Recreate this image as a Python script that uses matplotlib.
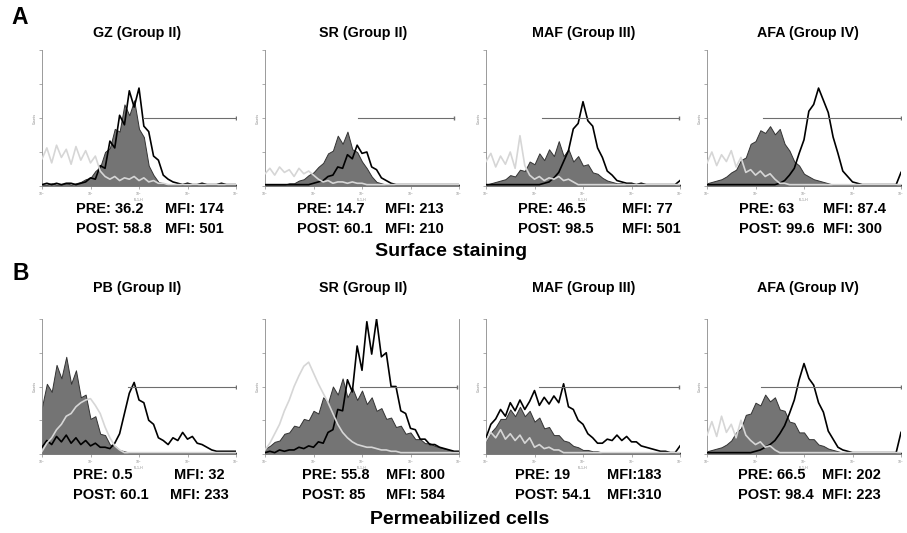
import numpy as np
import matplotlib
matplotlib.use("Agg")
import matplotlib.pyplot as plt

plt.rcParams["font.family"] = ["Liberation Sans", "DejaVu Sans"]

# histogram heights (fraction of axis height) on 41 channels, log10 scale 0..4
gz_iso  = [0.20, 0.28, 0.17, 0.30, 0.21, 0.27, 0.16, 0.29, 0.19, 0.26, 0.17, 0.22,
           0.11, 0.07, 0.05, 0.07, 0.04, 0.06, 0.05, 0.07, 0.04, 0.06, 0.03, 0.04, 0.02, 0.02] + [0.01] * 15
gz_pre  = [0.01, 0.01, 0.02, 0.01, 0.01, 0.02, 0.01, 0.02,
           0.03, 0.05, 0.06, 0.11, 0.14, 0.25, 0.28, 0.42, 0.40, 0.60, 0.52, 0.63, 0.42, 0.36,
           0.15, 0.08, 0.03, 0.02] + [0.01] * 15
gz_post = [0.01, 0.02, 0.01, 0.02, 0.01, 0.02, 0.02, 0.01, 0.02,
           0.03, 0.06, 0.05, 0.15, 0.13, 0.33, 0.28, 0.52, 0.45, 0.70, 0.58, 0.72, 0.44, 0.40,
           0.22, 0.19, 0.08, 0.05, 0.03,
           0.02, 0.01, 0.02, 0.01, 0.01, 0.02, 0.01, 0.01, 0.01, 0.02, 0.01, 0.01, 0.01]

sr_iso  = [0.09, 0.13, 0.08, 0.14, 0.10, 0.12, 0.07, 0.13, 0.09, 0.11, 0.08,
           0.05, 0.03, 0.04, 0.02, 0.03, 0.03, 0.02, 0.03, 0.02, 0.02] + [0.01] * 20
sr_pre  = [0.01, 0.01, 0.01, 0.01, 0.01, 0.02,
           0.02, 0.04, 0.05, 0.08, 0.10, 0.14, 0.17, 0.24, 0.26, 0.37, 0.31, 0.40, 0.27, 0.25,
           0.18, 0.13, 0.07, 0.03, 0.02] + [0.01] * 16
sr_post = [0.01] * 10 + [0.02, 0.03, 0.04, 0.07, 0.08, 0.14, 0.13, 0.23, 0.20, 0.30, 0.24,
           0.25, 0.14, 0.12, 0.06, 0.04, 0.02] + [0.01] * 14

maf_iso  = [0.18, 0.24, 0.14, 0.22, 0.16, 0.25, 0.13, 0.37, 0.15,
            0.08, 0.05, 0.07, 0.04, 0.06, 0.05, 0.07, 0.04, 0.05, 0.03] + [0.01] * 22
maf_pre  = [0.01, 0.02, 0.03, 0.04, 0.05, 0.08, 0.07, 0.12, 0.11, 0.18, 0.16, 0.24, 0.19,
            0.27, 0.22, 0.33, 0.22, 0.27, 0.18, 0.22, 0.15, 0.16, 0.10, 0.09, 0.06, 0.04,
            0.03, 0.02, 0.02, 0.01] + [0.01] * 11
maf_post = [0.01] * 12 + [0.02, 0.03, 0.06, 0.10, 0.18, 0.26, 0.42, 0.46, 0.62, 0.48, 0.44,
            0.28, 0.21, 0.11, 0.08, 0.04, 0.03, 0.02,
            0.02, 0.01, 0.02, 0.01, 0.01, 0.01, 0.01, 0.01, 0.01, 0.01, 0.04]

afa_iso  = [0.17, 0.25, 0.15, 0.23, 0.18, 0.26, 0.14, 0.21,
            0.10, 0.12, 0.08, 0.11, 0.07, 0.09, 0.05, 0.02, 0.02] + [0.01] * 24
afa_pre  = [0.02, 0.03, 0.04, 0.05, 0.07, 0.10, 0.12, 0.19, 0.21, 0.31, 0.33, 0.41, 0.39,
            0.44, 0.38, 0.42, 0.31, 0.26, 0.18, 0.15, 0.09, 0.07, 0.05, 0.04, 0.03, 0.02] + [0.01] * 15
afa_post = [0.01] * 15 + [0.02, 0.04, 0.08, 0.13, 0.24, 0.34, 0.55, 0.60, 0.72, 0.63, 0.54,
            0.36, 0.24, 0.11, 0.07, 0.03, 0.02] + [0.01] * 8 + [0.10]

pb_iso  = [0.02, 0.08, 0.12, 0.18, 0.22, 0.28, 0.30, 0.35, 0.38, 0.40, 0.41, 0.36, 0.30,
           0.20, 0.12, 0.06, 0.03] + [0.01] * 24
pb_pre  = [0.35, 0.52, 0.46, 0.66, 0.56, 0.72, 0.52, 0.62, 0.42, 0.44, 0.26, 0.28, 0.15,
           0.14, 0.07, 0.06, 0.03, 0.02] + [0.01] * 23
pb_post = [0.05, 0.10, 0.07, 0.13, 0.09, 0.14, 0.08, 0.12, 0.07, 0.10, 0.06, 0.08, 0.05,
           0.05, 0.04, 0.08, 0.15, 0.30, 0.45, 0.53, 0.40, 0.38, 0.25, 0.22, 0.12, 0.10,
           0.07, 0.12, 0.10, 0.16, 0.11, 0.13, 0.08, 0.07, 0.05, 0.03] + [0.02] * 5

sr2_iso  = [0.03, 0.08, 0.15, 0.22, 0.32, 0.40, 0.50, 0.58, 0.65, 0.68, 0.60, 0.52, 0.45,
            0.38, 0.30, 0.22, 0.16, 0.12, 0.09, 0.07, 0.06, 0.05, 0.05, 0.04, 0.03, 0.03,
            0.02, 0.02] + [0.01] * 13
sr2_pre  = [0.04, 0.06, 0.09, 0.10, 0.15, 0.16, 0.21, 0.20, 0.26, 0.25,
            0.32, 0.30, 0.42, 0.38, 0.50, 0.44, 0.56, 0.42, 0.49, 0.40,
            0.47, 0.37, 0.42, 0.32, 0.34, 0.26, 0.27, 0.20, 0.21, 0.15,
            0.16, 0.11, 0.11, 0.08, 0.08, 0.06, 0.05, 0.04, 0.03, 0.02, 0.02]
sr2_post = [0.01, 0.02, 0.01, 0.03, 0.02, 0.03, 0.03, 0.05, 0.04, 0.06,
            0.05, 0.09, 0.08, 0.16, 0.18, 0.33, 0.32, 0.55, 0.46, 0.80,
            0.62, 0.98, 0.74, 1.00, 0.72, 0.75, 0.50, 0.50, 0.32, 0.30,
            0.19, 0.18, 0.11, 0.11, 0.07, 0.07, 0.05, 0.04, 0.03, 0.02, 0.02]

maf2_iso  = [0.10, 0.16, 0.12, 0.18, 0.11, 0.15, 0.10, 0.14, 0.08, 0.12,
             0.05, 0.07, 0.04, 0.05, 0.03, 0.03] + [0.01] * 25
maf2_pre  = [0.10, 0.16, 0.20, 0.26, 0.26, 0.33, 0.28, 0.35, 0.28, 0.32, 0.24, 0.27,
             0.19, 0.20, 0.14, 0.14, 0.10, 0.09, 0.06, 0.05, 0.03, 0.03, 0.02, 0.02] + [0.01] * 17
maf2_post = [0.12, 0.22, 0.26, 0.33, 0.28, 0.38, 0.32, 0.40, 0.33, 0.39,
             0.47, 0.36, 0.42, 0.37, 0.43, 0.38, 0.52, 0.35, 0.33, 0.25,
             0.22, 0.15, 0.12, 0.08, 0.08, 0.11, 0.10, 0.14, 0.10, 0.13,
             0.09, 0.09, 0.06, 0.05, 0.04, 0.03, 0.02, 0.02, 0.01, 0.01, 0.06]

afa2_iso  = [0.14, 0.24, 0.13, 0.28, 0.16, 0.22, 0.12, 0.25, 0.14,
             0.10, 0.07, 0.09, 0.05, 0.06, 0.03] + [0.01] * 26
afa2_pre  = [0.02, 0.03, 0.04, 0.05, 0.07, 0.10, 0.16, 0.19, 0.29, 0.30, 0.38, 0.36, 0.44,
             0.39, 0.42, 0.33, 0.32, 0.24, 0.23, 0.16, 0.16, 0.11, 0.11, 0.07, 0.06, 0.04,
             0.03, 0.02] + [0.01] * 13
afa2_post = [0.01] * 10 + [0.02, 0.03, 0.05, 0.07, 0.10, 0.15, 0.21, 0.30, 0.40, 0.55, 0.67,
             0.56, 0.51, 0.38, 0.31, 0.17, 0.11, 0.05, 0.03, 0.02] + [0.01] * 10 + [0.16]

titles = ["GZ (Group II)", "SR (Group II)", "MAF (Group III)", "AFA (Group IV)",
          "PB (Group II)", "SR (Group II)", "MAF (Group III)", "AFA (Group IV)"]
iso_data  = [gz_iso, sr_iso, maf_iso, afa_iso, pb_iso, sr2_iso, maf2_iso, afa2_iso]
pre_data  = [gz_pre, sr_pre, maf_pre, afa_pre, pb_pre, sr2_pre, maf2_pre, afa2_pre]
post_data = [gz_post, sr_post, maf_post, afa_post, pb_post, sr2_post, maf2_post, afa2_post]
gate_start = [2.08, 1.92, 1.15, 1.15, 1.77, 1.95, 1.10, 1.11]
gate_end   = [4.0, 3.9, 3.98, 4.0, 4.0, 3.95, 3.98, 4.0]
gate_level = 0.5
pre_vals  = ["PRE: 36.2", "PRE: 14.7", "PRE: 46.5", "PRE: 63",
             "PRE: 0.5", "PRE: 55.8", "PRE: 19", "PRE: 66.5"]
pre_mfi   = ["MFI: 174", "MFI: 213", "MFI: 77", "MFI: 87.4",
             "MFI: 32", "MFI: 800", "MFI:183", "MFI: 202"]
post_vals = ["POST: 58.8", "POST: 60.1", "POST: 98.5", "POST: 99.6",
             "POST: 60.1", "POST: 85", "POST: 54.1", "POST: 98.4"]
post_mfi  = ["MFI: 501", "MFI: 210", "MFI: 501", "MFI: 300",
             "MFI: 233", "MFI: 584", "MFI:310", "MFI: 223"]
decade_labels = ["10$^0$", "10$^1$", "10$^2$", "10$^3$", "10$^4$"]

W, H = 907, 533
fig = plt.figure(figsize=(W / 100, H / 100), dpi=100)

def px(x, y):
    return x / W, 1 - y / H

lefts = [42, 265, 486, 707]
row_top = [50, 319]
row_h = [136, 135]
ax_w = 194
title_x = [137, 363, 584, 808]
title_y = [33, 288]
pre_x = [76, 297, 518, 739, 73, 302, 515, 738]
mfi_x_pre = [165, 385, 622, 823, 174, 386, 607, 822]
mfi_x_post = [165, 385, 622, 823, 170, 386, 607, 822]
line_y = [[209, 229], [475, 495]]

x = np.linspace(0, 4, 41)

for k in range(8):
    r, c = divmod(k, 4)
    l, b = px(lefts[c], row_top[r] + row_h[r])
    ax = fig.add_axes([l, b, ax_w / W, row_h[r] / H])
    ax.fill_between(x, pre_data[k], 0, color="#747474", edgecolor="#333333", linewidth=0.7, zorder=2)
    ax.plot(x, post_data[k], color="black", linewidth=1.2, zorder=3)
    ax.plot(x, iso_data[k], color="#d6d6d6", linewidth=1.2, zorder=4)
    ax.plot([gate_start[k], gate_end[k]], [gate_level, gate_level], color="#6e6e6e",
            linewidth=0.8, zorder=5)
    ax.plot([gate_end[k]], [gate_level], marker="|", color="#6e6e6e", markersize=3, zorder=5)
    ax.set_xlim(0, 4)
    ax.set_ylim(0, 1)
    for s in ["top", "right"]:
        ax.spines[s].set_visible(False)
    if k == 5:
        ax.spines["right"].set_visible(True)
    for s in ax.spines.values():
        s.set_color("#8a8a8a")
        s.set_linewidth(0.6)
    ax.set_xticks(range(5))
    ax.set_xticklabels(decade_labels)
    ax.set_yticks([0, 0.25, 0.5, 0.75, 1])
    ax.set_yticklabels([])
    ax.tick_params(length=2, width=0.5, colors="#8a8a8a", labelsize=2.5, pad=1)
    ax.set_ylabel("Counts", fontsize=2.5, color="#8a8a8a", labelpad=1)
    ax.set_xlabel("FL1-H", fontsize=2.5, color="#8a8a8a", labelpad=0)

    tx, ty = px(title_x[c], title_y[r])
    fig.text(tx, ty, titles[k], ha="center", va="center", fontsize=10.3, fontweight="bold")
    for txt, xx, yy in [(pre_vals[k], pre_x[k], line_y[r][0]),
                        (post_vals[k], pre_x[k], line_y[r][1]),
                        (pre_mfi[k], mfi_x_pre[k], line_y[r][0]),
                        (post_mfi[k], mfi_x_post[k], line_y[r][1])]:
        fx, fy = px(xx, yy)
        fig.text(fx, fy, txt, ha="left", va="center", fontsize=10.5, fontweight="bold")

fx, fy = px(451, 251)
fig.text(fx, fy, "Surface staining", ha="center", va="center", fontsize=14, fontweight="bold")
fx, fy = px(460, 519)
fig.text(fx, fy, "Permeabilized cells", ha="center", va="center", fontsize=14, fontweight="bold")
fx, fy = px(20, 17)
fig.text(fx, fy, "A", ha="center", va="center", fontsize=16.5, fontweight="bold")
fx, fy = px(21, 273)
fig.text(fx, fy, "B", ha="center", va="center", fontsize=16.5, fontweight="bold")

fig.savefig("out.png", dpi=100)
